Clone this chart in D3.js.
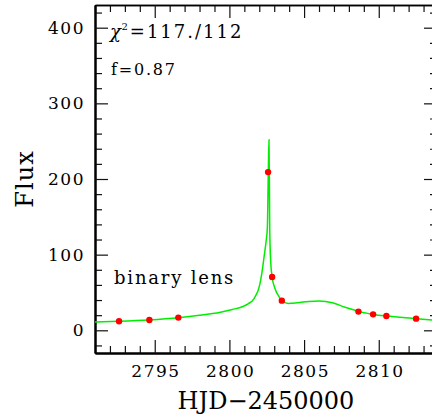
<!DOCTYPE html>
<html>
<head>
<meta charset="utf-8">
<script src="https://cdn.jsdelivr.net/npm/d3@7/dist/d3.min.js"></script>
<style>
  html, body { margin: 0; padding: 0; background: #fff; }
  svg { display: block; }
  text { font-family: "DejaVu Serif", serif; fill: #000; }
</style>
</head>
<body>
<svg id="chart" width="432" height="418"></svg>
<script>
// Observed data points (HJD - 2450000, flux)
const obsTime = [2792.61, 2794.64, 2796.58, 2802.59, 2802.86, 2803.51, 2808.64, 2809.62, 2810.51, 2812.50];
const obsFlux = [11.9, 13.7, 16.8, 209.1, 70.5, 39.2, 24.7, 21.1, 19.0, 15.4];

// Binary-lens model light curve
const modelTime = [2791.0, 2792.6, 2794.6, 2796.6, 2798.0, 2799.4, 2800.2, 2800.9, 2801.25, 2801.65,
                   2802.03, 2802.19, 2802.32, 2802.47, 2802.54, 2802.61, 2802.65, 2802.70, 2802.77, 2802.86,
                   2803.04, 2803.37, 2803.50, 2803.93, 2804.2, 2805.1, 2806.0, 2806.9, 2807.75, 2808.42,
                   2808.64, 2809.64, 2810.54, 2812.55, 2813.9];
const modelFlux = [11.1, 12.0, 13.7, 16.6, 19.8, 24.0, 27.5, 31.5, 35.0, 42.0,
                   60.0, 78.0, 97.0, 120.0, 135.0, 215.0, 252.0, 133.0, 89.0, 70.5,
                   56.0, 43.0, 39.2, 35.5, 35.8, 37.6, 38.8, 36.5, 30.5, 26.4,
                   25.0, 21.0, 18.8, 15.4, 13.0];

// Axis ticks
const xMajorTicks = [2795, 2800, 2805, 2810];
const xMinorTicks = d3.range(2791, 2814, 1);
const yMajorTicks = [0, 100, 200, 300, 400];
const yMinorTicks = d3.range(-20, 430, 20);

const labels = ["\u03C7", "2", "=117./112", "f=0.87", "binary lens", "Flux", "HJD\u22122450000"];

const svg = d3.select("#chart");
const plotLeft = 95, plotRight = 437, plotTop = 5, plotBottom = 353;

const x = d3.scaleLinear().domain([2791, 2813.9]).range([plotLeft, plotRight]);
const y = d3.scaleLinear().domain([-30, 430]).range([plotBottom, plotTop]);

const majorLen = 13, minorLen = 7;
const tickFont = 17, tickSpacing = 1.5;

// clip for plotted marks
svg.append("defs").append("clipPath").attr("id", "plotClip")
  .append("rect").attr("x", plotLeft).attr("y", plotTop)
  .attr("width", plotRight - plotLeft).attr("height", plotBottom - plotTop);

// Tick axes (ticks pointing inward)
function styleAxis(g, width) {
  g.select(".domain").attr("stroke", "#000").attr("stroke-width", width);
  g.selectAll(".tick line").attr("stroke", "#111").attr("stroke-width", 1.2);
}
const onlyMinor = (ticks, majors) => ticks.filter(t => !majors.includes(t));

// bottom
const gxMinor = svg.append("g").attr("transform", `translate(0,${plotBottom})`)
  .call(d3.axisBottom(x).tickValues(onlyMinor(xMinorTicks, xMajorTicks))
        .tickSize(-minorLen).tickSizeOuter(0).tickFormat(""));
styleAxis(gxMinor, 2);
const gx = svg.append("g").attr("transform", `translate(0,${plotBottom})`)
  .call(d3.axisBottom(x).tickValues(xMajorTicks).tickSize(-majorLen).tickSizeOuter(0)
        .tickPadding(12).tickFormat(d3.format("d")));
styleAxis(gx, 2);
gx.selectAll(".tick text").attr("font-family", "DejaVu Serif").attr("font-size", tickFont)
  .attr("letter-spacing", tickSpacing).attr("dx", tickSpacing / 2).attr("fill", "#000");

// top
const gtMinor = svg.append("g").attr("transform", `translate(0,${plotTop})`)
  .call(d3.axisTop(x).tickValues(onlyMinor(xMinorTicks, xMajorTicks))
        .tickSize(-minorLen).tickSizeOuter(0).tickFormat(""));
styleAxis(gtMinor, 1.5);
const gt = svg.append("g").attr("transform", `translate(0,${plotTop})`)
  .call(d3.axisTop(x).tickValues(xMajorTicks).tickSize(-majorLen).tickSizeOuter(0).tickFormat(""));
styleAxis(gt, 1.5);

// left
const gyMinor = svg.append("g").attr("transform", `translate(${plotLeft},0)`)
  .call(d3.axisLeft(y).tickValues(onlyMinor(yMinorTicks, yMajorTicks))
        .tickSize(-minorLen).tickSizeOuter(0).tickFormat(""));
styleAxis(gyMinor, 2);
const gy = svg.append("g").attr("transform", `translate(${plotLeft},0)`)
  .call(d3.axisLeft(y).tickValues(yMajorTicks).tickSize(-majorLen).tickSizeOuter(0)
        .tickPadding(10).tickFormat(d3.format("d")));
styleAxis(gy, 2);
gy.selectAll(".tick text").attr("font-family", "DejaVu Serif").attr("font-size", tickFont)
  .attr("letter-spacing", tickSpacing).attr("fill", "#000");

// right
const grMinor = svg.append("g").attr("transform", `translate(${plotRight},0)`)
  .call(d3.axisRight(y).tickValues(onlyMinor(yMinorTicks, yMajorTicks))
        .tickSize(-minorLen).tickSizeOuter(0).tickFormat(""));
styleAxis(grMinor, 1.5);
const gr = svg.append("g").attr("transform", `translate(${plotRight},0)`)
  .call(d3.axisRight(y).tickValues(yMajorTicks).tickSize(-majorLen).tickSizeOuter(0).tickFormat(""));
styleAxis(gr, 1.5);

// Model curve
const plot = svg.append("g").attr("clip-path", "url(#plotClip)");
const model = modelTime.map((t, i) => [t, modelFlux[i]]);
plot.append("path")
  .datum(model)
  .attr("fill", "none")
  .attr("stroke", "#00ee00")
  .attr("stroke-width", 1.5)
  .attr("d", d3.line().x(d => x(d[0])).y(d => y(d[1])).curve(d3.curveMonotoneX));

// Data points
plot.selectAll("circle.obs")
  .data(obsTime.map((t, i) => [t, obsFlux[i]]))
  .join("circle")
  .attr("class", "obs")
  .attr("cx", d => x(d[0]))
  .attr("cy", d => y(d[1]))
  .attr("r", 3.2)
  .attr("fill", "#ff0000");

// Annotations
const chi = svg.append("text").attr("x", 110).attr("y", 38).attr("font-size", 18).attr("letter-spacing", 2);
chi.append("tspan").attr("font-style", "italic").text(labels[0]);
chi.append("tspan").attr("font-size", 10).attr("dy", -8).attr("dx", -1.5).text(labels[1]);
chi.append("tspan").attr("dy", 8).text(labels[2]);

svg.append("text").attr("x", 111).attr("y", 75).attr("font-size", 16).attr("letter-spacing", 1.8)
  .text(labels[3]);

svg.append("text").attr("x", 114).attr("y", 284).attr("font-size", 18).attr("letter-spacing", 1.8)
  .text(labels[4]);

// Axis titles
svg.append("text").attr("transform", `translate(33,${(plotTop + plotBottom) / 2}) rotate(-90)`)
  .attr("text-anchor", "middle").attr("font-size", 24).attr("letter-spacing", 1)
  .text(labels[5]);

svg.append("text").attr("x", (plotLeft + plotRight) / 2).attr("y", 409)
  .attr("text-anchor", "middle").attr("font-size", 24).attr("letter-spacing", 0)
  .text(labels[6]);
</script>
</body>
</html>
